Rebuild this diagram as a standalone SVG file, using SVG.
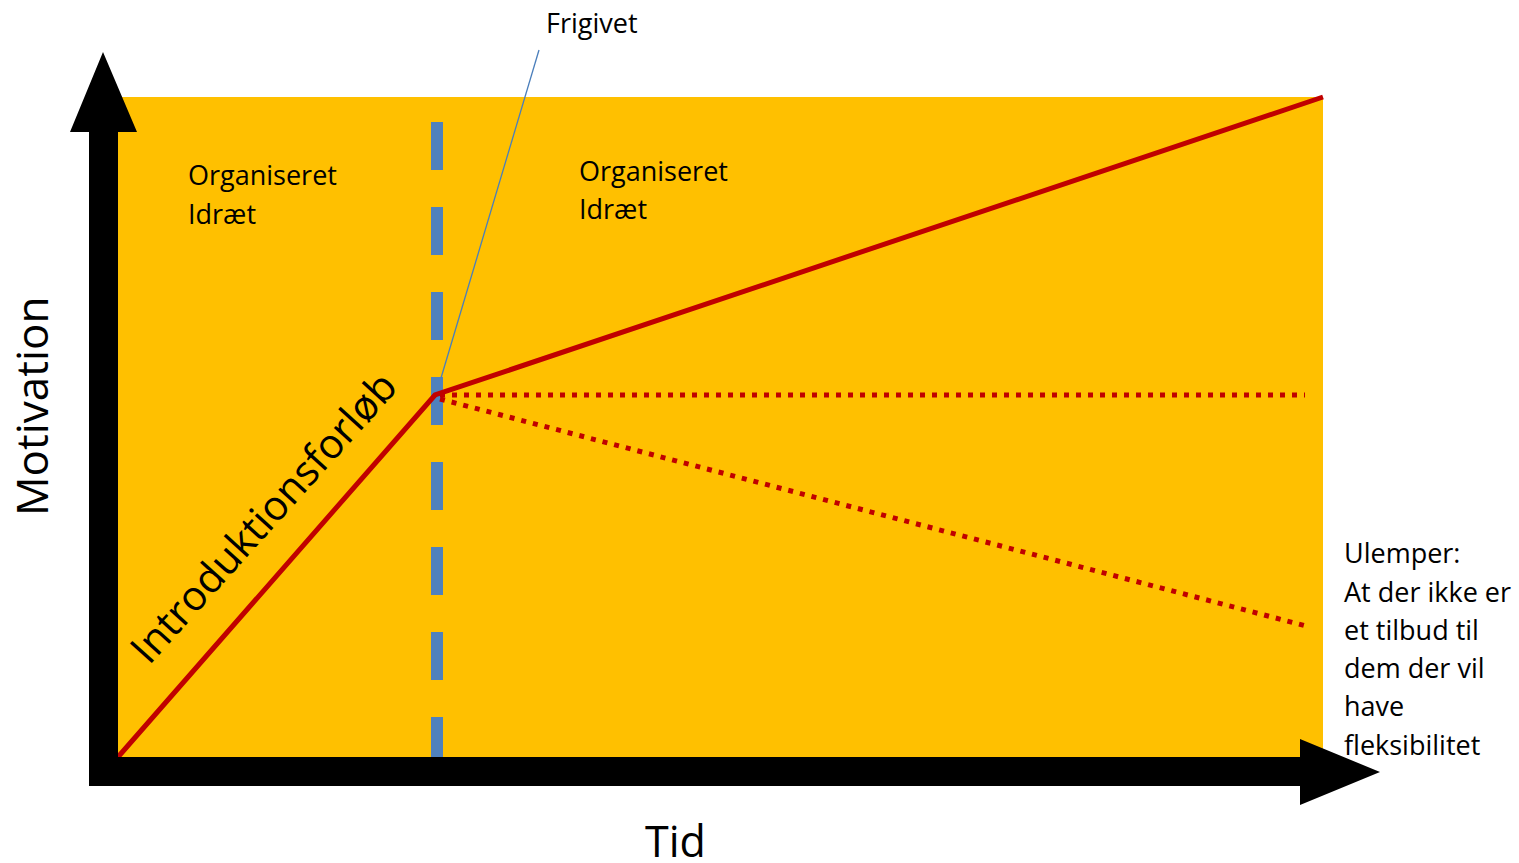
<svg xmlns="http://www.w3.org/2000/svg" width="1519" height="863" viewBox="0 0 1519 863">
<style>
text{font-family:"Open Sans","Noto Sans","Liberation Sans",sans-serif;fill:#000}
.lbl{font-size:27px}
.big{font-size:43px}
.red{stroke:#C00000;stroke-width:5;fill:none}
.dot{stroke:#C00000;stroke-width:5;fill:none;stroke-dasharray:5 7}
</style>
<rect id="field" x="118" y="97" width="1205" height="660" fill="#FFC000"/>
<g id="guide">
<line x1="437" y1="122" x2="437" y2="757" stroke="#4F81BD" stroke-width="12" stroke-dasharray="48 37"/>
</g>
<g id="connectors">
<polyline class="red" points="118,757 435,395 1323,97"/>
<line class="dot" x1="440" y1="395" x2="1305" y2="395"/>
<line class="dot" x1="440" y1="399" x2="1310" y2="627"/>
<line x1="441" y1="378" x2="539" y2="50" stroke="#4A7EBB" stroke-width="1.3"/>
</g>
<g id="axes">
<polygon points="89,786 89,132 70,132 103,52 137,132 118,132 118,757 1300,757 1300,739 1380,772 1300,805 1300,786" fill="#000"/>
</g>
<g id="label-frigivet"><text class="lbl" x="546" y="33">Frigivet</text></g>
<g id="label-org1"><text class="lbl" x="188" y="185">Organiseret</text><text class="lbl" x="188" y="224">Idræt</text></g>
<g id="label-org2"><text class="lbl" x="579" y="181">Organiseret</text><text class="lbl" x="579" y="219">Idræt</text></g>
<g id="label-motivation"><text class="big" style="font-size:44px" transform="translate(48,516) rotate(-90)">Motivation</text></g>
<g id="label-tid"><text class="big" x="645" y="857">Tid</text></g>
<g id="label-intro"><text class="big" style="font-size:41px" transform="translate(149,666) rotate(-48)">Introduktionsforløb</text></g>
<g id="label-ulemper">
<text class="lbl" x="1344" y="563">Ulemper:</text>
<text class="lbl" x="1344" y="602">At der ikke er</text>
<text class="lbl" x="1344" y="640">et tilbud til</text>
<text class="lbl" x="1344" y="678">dem der vil</text>
<text class="lbl" x="1344" y="716">have</text>
<text class="lbl" x="1344" y="755">fleksibilitet</text>
</g>
</svg>
